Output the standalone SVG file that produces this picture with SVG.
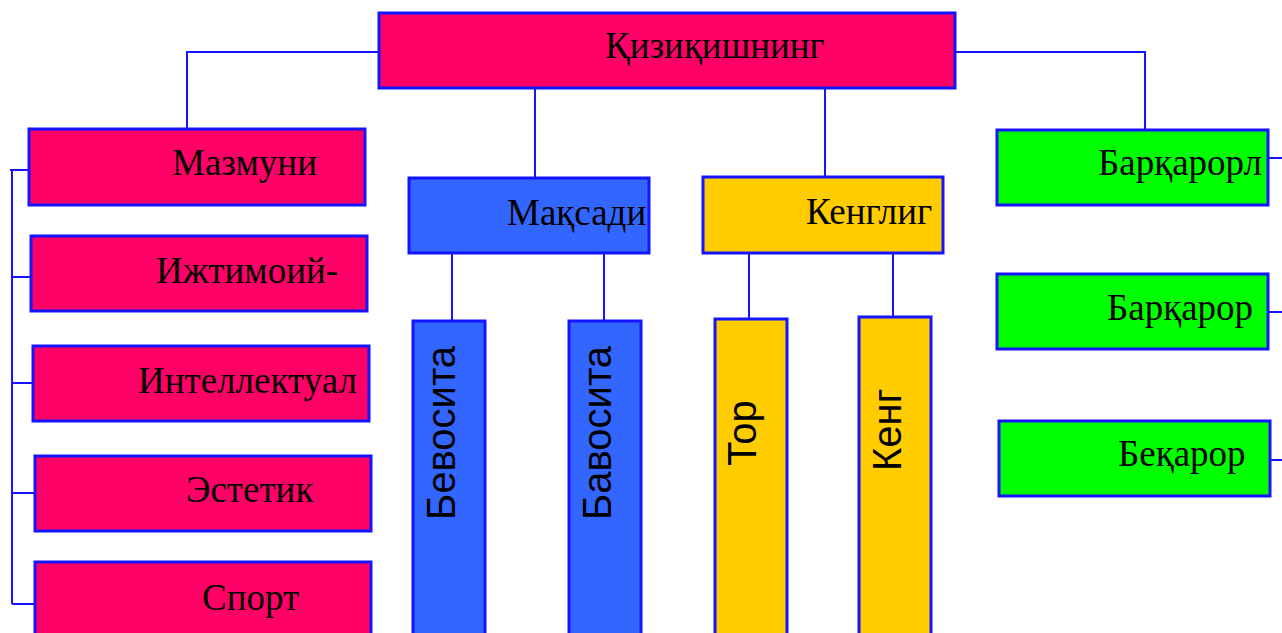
<svg xmlns="http://www.w3.org/2000/svg" width="1282" height="633" viewBox="0 0 1282 633">
<style>
.box{stroke:#1414ff;stroke-width:3}
.pink{fill:#ff0066}
.blue{fill:#3366ff}
.yel{fill:#ffcc00}
.grn{fill:#00ff00}
.t{font-family:"Liberation Serif","Times New Roman",serif;font-size:37px;fill:#000}
.v{font-family:"Liberation Sans",Arial,sans-serif;font-size:40px;fill:#000}
.c{stroke:#1414ff;stroke-width:2;fill:none}
</style>
<rect width="1282" height="633" fill="#fff"/>
<g id="connectors">
<polyline class="c" points="379,52 187,52 187,129"/>
<polyline class="c" points="955,52 1145,52 1145,130"/>
<line class="c" x1="535" y1="88" x2="535" y2="178"/>
<line class="c" x1="825" y1="82" x2="825" y2="177"/>
<line class="c" x1="452" y1="253" x2="452" y2="324"/>
<line class="c" x1="604" y1="250" x2="604" y2="324"/>
<line class="c" x1="749" y1="250" x2="749" y2="322"/>
<line class="c" x1="893" y1="247" x2="893" y2="320"/>
<line class="c" x1="12" y1="170" x2="12" y2="604"/>
<line class="c" x1="10" y1="170" x2="33" y2="170"/>
<line class="c" x1="12" y1="277" x2="35" y2="277"/>
<line class="c" x1="12" y1="383" x2="37" y2="383"/>
<line class="c" x1="12" y1="493" x2="39" y2="493"/>
<line class="c" x1="12" y1="604" x2="39" y2="604"/>
<line class="c" x1="1268" y1="158" x2="1282" y2="158"/>
<line class="c" x1="1268" y1="312" x2="1282" y2="312"/>
<line class="c" x1="1266" y1="460" x2="1282" y2="460"/>
</g>
<g id="n-top"><rect class="box pink" x="379" y="13" width="576" height="75"/><text class="t" x="605" y="58">Қизиқишнинг</text></g>
<g id="n-mazmuni"><rect class="box pink" x="29" y="129" width="336" height="76"/><text class="t" x="172" y="175">Мазмуни</text></g>
<g id="n-ijtimoiy"><rect class="box pink" x="31" y="236" width="336" height="75"/><text class="t" x="156" y="283">Ижтимоий-</text></g>
<g id="n-intellektual"><rect class="box pink" x="33" y="346" width="336" height="75"/><text class="t" x="138" y="393">Интеллектуал</text></g>
<g id="n-estetik"><rect class="box pink" x="35" y="456" width="336" height="75"/><text class="t" x="186" y="502">Эстетик</text></g>
<g id="n-sport"><rect class="box pink" x="35" y="562" width="336" height="80"/><text class="t" x="202" y="610">Спорт</text></g>
<g id="n-maqsadi"><rect class="box blue" x="409" y="178" width="240" height="75"/><text class="t" x="507" y="225">Мақсади</text></g>
<g id="n-kenglig"><rect class="box yel" x="703" y="177" width="240" height="76"/><text class="t" x="806" y="224">Кенглиг</text></g>
<g id="n-bevosita"><rect class="box blue" x="413" y="321" width="72" height="320"/><text class="v" transform="translate(455,520) rotate(-90)">Бевосита</text></g>
<g id="n-bavosita"><rect class="box blue" x="569" y="321" width="72" height="320"/><text class="v" transform="translate(611,520) rotate(-90)">Бавосита</text></g>
<g id="n-tor"><rect class="box yel" x="715" y="319" width="72" height="320"/><text class="v" transform="translate(756,466) rotate(-90)">Тор</text></g>
<g id="n-keng"><rect class="box yel" x="859" y="317" width="72" height="322"/><text class="v" transform="translate(901,471) rotate(-90)">Кенг</text></g>
<g id="n-barqarorl"><rect class="box grn" x="997" y="130" width="271" height="75"/><text class="t" x="1098" y="175">Барқарорл</text></g>
<g id="n-barqaror"><rect class="box grn" x="997" y="274" width="271" height="75"/><text class="t" x="1107" y="320">Барқарор</text></g>
<g id="n-beqaror"><rect class="box grn" x="999" y="421" width="271" height="75"/><text class="t" x="1118" y="466">Беқарор</text></g>
</svg>
